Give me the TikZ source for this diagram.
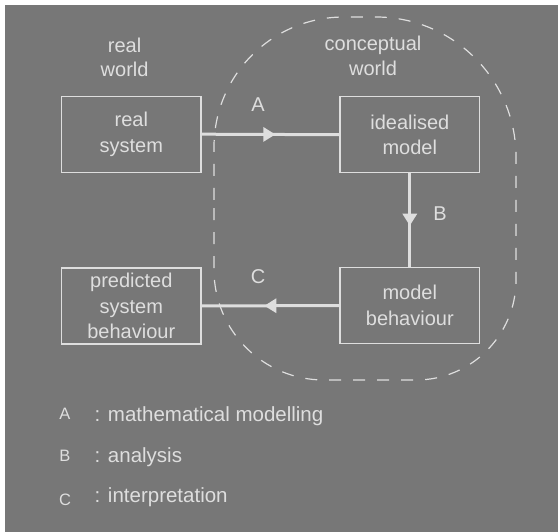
\documentclass[tikz,border=0pt]{standalone}
\usepackage{fontspec}
\setmainfont{Liberation Sans}
\usetikzlibrary{arrows.meta,decorations.markings}
\definecolor{bg}{RGB}{119,119,119}
\definecolor{fg}{RGB}{222,222,222}
\tikzset{
  boxnode/.style={draw=fg, line width=1.2pt, minimum width=139.5pt, minimum height=76pt,
    inner sep=0pt, align=center, text=fg, font=\fontsize{20}{25.5}\selectfont},
  lbl/.style={text=fg, inner sep=0pt, align=center, font=\fontsize{20}{24.8}\selectfont},
  legletter/.style={text=fg, inner sep=0pt, anchor=base, font=\fontsize{16.5}{18}\selectfont},
  legtext/.style={text=fg, inner sep=0pt, anchor=base west, font=\fontsize{20.5}{24}\selectfont},
  flow/.style={draw=fg, line width=3pt, postaction={decorate},
    decoration={markings, mark=at position #1 with {\arrow[fg]{Triangle[length=12pt,width=14pt]}}}},
}
\begin{document}
\begin{tikzpicture}[x=1pt,y=-1pt]
\useasboundingbox (0,0) rectangle (558,532);
\fill[white] (0,0) rectangle (558,532);
\fill[bg] (5.3,5.3) rectangle (558,532);
% dashed conceptual-world boundary
\draw[fg, line width=1.2pt, dash pattern=on 12pt off 12pt]
  (214,200) -- (214,147)
  .. controls (214,75.2) and (272.2,17) .. (344,17)
  -- (376,17)
  .. controls (453.3,17) and (516,79.7) .. (516,157)
  -- (516,280)
  .. controls (516,335.2) and (471.2,380) .. (416,380)
  -- (324,380)
  .. controls (263.3,380) and (214,330.7) .. (214,270)
  -- cycle;
% titles
\node[lbl] (rw) at (124.6,57.4) {real\\world};
\node[lbl] (cw) at (373,55.8) {conceptual\\world};
% boxes
\node[boxnode] (rs) at (131.3,134.2) {real\\system};
\node[boxnode] (im) at (409.8,134.7) {idealised\\model};
\node[boxnode] (psb) at (131.3,306) {predicted\\system\\behaviour};
\node[boxnode] (mb) at (409.8,305.5) {model\\behaviour};
% connectors
\draw[flow=0.535] (rs.east) -- (im.west);
\draw[flow=0.56] (im.south) -- (mb.north);
\draw[flow=0.545] (mb.west) -- (psb.east);
% arrow labels
\node[lbl] (la) at (258,105) {A};
\node[lbl] (lb) at (440,214) {B};
\node[lbl] (lc) at (258,277) {C};
% legend
\node[legletter] (ka) at (65,420) {A};
\node[legtext] (ta) at (94.5,421.7) {: mathematical modelling};
\node[legletter] (kb) at (65,461.7) {B};
\node[legtext] (tb) at (94.5,462.7) {: analysis};
\node[legletter] (kc) at (65,505.5) {C};
\node[legtext] (tc) at (94.5,502.7) {: interpretation};
\end{tikzpicture}
\end{document}
